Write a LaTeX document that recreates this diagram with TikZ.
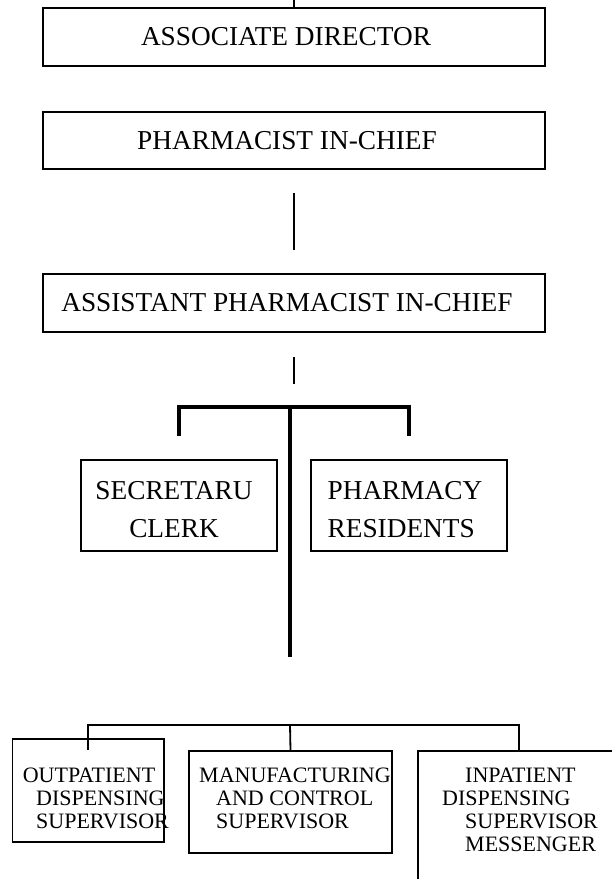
\documentclass[tikz,border=0pt]{standalone}
\usepackage{fontspec}
\setmainfont{Liberation Serif}

\tikzset{
  bigbox/.style={draw, line width=1.8pt, minimum width=502pt, minimum height=58pt, inner sep=0pt},
  midbox/.style={draw, line width=1.8pt, minimum width=196pt, minimum height=91pt, inner sep=0pt},
  lowbox/.style={draw, line width=1.6pt, inner sep=0pt},
  bigtext/.style={inner sep=0pt, font=\fontsize{27.3}{38}\selectfont},
  lowtext/.style={inner sep=0pt, anchor=north west, align=left, font=\fontsize{22}{23}\selectfont},
  thinline/.style={line width=1.8pt},
  thickline/.style={line width=3.4pt},
}

\begin{document}
\begin{tikzpicture}[x=1pt, y=1pt]
                      \useasboundingbox (0, 0) rectangle (612, -879);
                      \clip (0, 0) rectangle (612, -879);
                      % top boxes
                      \node[bigbox] (assoc) at (294, -37) {};
                      \node[bigbox, minimum height=57pt] (chief) at (294, -140.5) {};
                      \node[bigbox] (asst) at (294, -303) {};
                      \node[bigtext] (assoctext) at ([xshift=-8pt]assoc.center) {ASSOCIATE DIRECTOR};
                      \node[bigtext] (chieftext) at ([xshift=-7pt]chief.center) {PHARMACIST IN-CHIEF};
                      \node[bigtext] (assttext) at ([xshift=-7pt]asst.center) {ASSISTANT PHARMACIST IN-CHIEF};
                      % staff boxes
                      \node[midbox] (clerk) at (179, -505.5) {};
                      \node[midbox] (resid) at (409, -505.5) {};
                      \node[bigtext, align=center] (clerktext) at (174, -509.5) {SECRETARU\\CLERK};
                      \node[bigtext, align=left] (residtext) at (405, -509.5) {PHARMACY\\RESIDENTS};
                      % supervisor boxes
                      \node[lowbox, minimum width=151.5pt, minimum height=103pt] (outpat) at (88.25, -790.5) {};
                      \node[lowbox, minimum width=203pt, minimum height=102pt] (manuf) at (290.5, -802) {};
                      \node[lowbox, minimum width=202pt, minimum height=169pt] (inpat) at (519, -835.5) {};
                      \node[lowtext] (outpattext) at (22.6, -767.4) {OUTPATIENT\\\hspace*{13.4pt}DISPENSING\\\hspace*{13.4pt}SUPERVISOR};
                      \node[lowtext] (manuftext) at (199, -767.4) {MANUFACTURING\\\hspace*{17pt}AND CONTROL\\\hspace*{17pt}SUPERVISOR};
                      \node[lowtext] (inpattext) at (442, -767.4) {\hspace*{23pt}INPATIENT\\DISPENSING\\\hspace*{23pt}SUPERVISOR\\\hspace*{23pt}MESSENGER};
                      % connectors
                      \coordinate (topend) at (294, 0);
                      \coordinate (tickend) at (294, -384);
                      \coordinate (split) at (290, -407);
                      \coordinate (trunkend) at (290, -657);
                      \coordinate (lowsplit) at (290, -725);
                      \draw[thinline] (assoc.north) -- (topend);
                      \draw[thinline, shorten <=23pt, shorten >=23pt] (chief.south) -- (asst.north);
                      \draw[thinline, shorten <=24pt] (asst.south) -- (tickend);
                      \draw[thickline] ([yshift=23pt]clerk.north) |- (split) -| ([yshift=23pt]resid.north);
                      \draw[thickline] (split) -- (trunkend);
                      \draw[thinline] ([yshift=-12pt]outpat.north) |- (lowsplit) -| (inpat.north);
                      \draw[thinline] (lowsplit) -- (manuf.north);
                  \end{tikzpicture}
\end{document}
